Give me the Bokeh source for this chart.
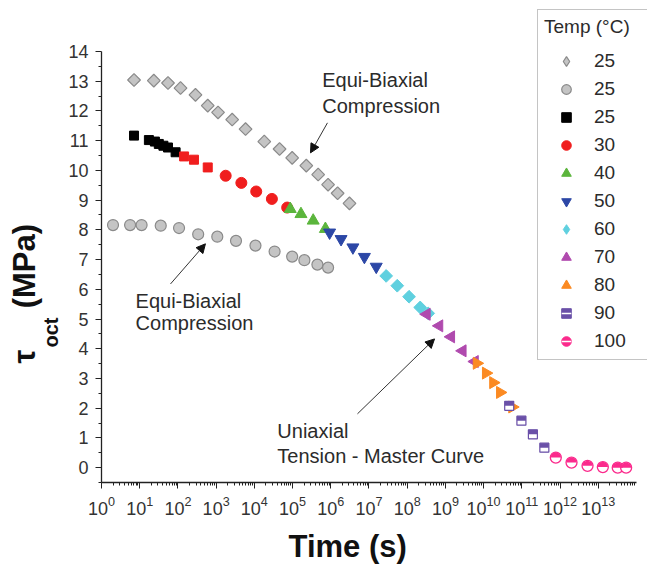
import math
from bokeh.plotting import figure
from bokeh.models import (Range1d, FixedTicker, Legend, LegendItem, Label, Arrow,
                          NormalHead, LogTickFormatter, Title)
from bokeh.embed import file_html
from bokeh.resources import INLINE

# ---------------- data (time in s, tau_oct in MPa) ----------------
t_25_diamond = [7.1, 23.4, 55, 117, 288, 603, 1122, 2630, 5890, 1.82e4, 4.57e4,
                9.77e4, 2.29e5, 4.68e5, 8.51e5, 1.51e6, 3.09e6]
y_25_diamond = [13.04, 13.02, 12.94, 12.77, 12.54, 12.18, 11.95, 11.71, 11.39, 10.97,
                10.72, 10.42, 10.16, 9.86, 9.52, 9.23, 8.89]

t_25_circle = [2.0, 5.6, 11.2, 35.5, 107, 339, 1072, 3311, 1.07e4, 3.39e4, 9.77e4,
               2.04e5, 4.47e5, 8.51e5]
y_25_circle = [8.16, 8.16, 8.16, 8.14, 8.06, 7.85, 7.77, 7.63, 7.47, 7.27, 7.10,
               6.98, 6.83, 6.73]

t_25_square = [7.1, 17.4, 25, 31.6, 41.7, 55, 87]
y_25_square = [11.17, 11.02, 10.97, 10.89, 10.83, 10.77, 10.61]

t_30_square = [145, 263, 603]
y_30_square = [10.47, 10.36, 10.10]
t_30 = [1778, 4571, 1.12e4, 2.88e4, 7.24e4]
y_30 = [9.82, 9.58, 9.29, 9.04, 8.75]

t_40 = [8.71e4, 1.66e5, 3.47e5, 7.24e5]
y_40 = [8.70, 8.53, 8.31, 8.03]

t_50 = [9.33e5, 1.86e6, 3.80e6, 7.59e6, 1.55e7]
y_50 = [7.91, 7.69, 7.41, 7.09, 6.76]

t_60 = [2.82e7, 5.50e7, 1.12e8, 2.19e8, 3.55e8]
y_60 = [6.45, 6.12, 5.75, 5.39, 5.19]

t_70 = [3.24e8, 6.92e8, 1.41e9, 2.82e9, 5.89e9]
y_70 = [5.16, 4.77, 4.40, 3.93, 3.57]

t_80 = [6.61e9, 1.15e10, 1.78e10, 2.69e10, 5.62e10]
y_80 = [3.51, 3.18, 2.86, 2.53, 2.04]

t_90 = [4.68e10, 9.77e10, 1.95e11, 3.89e11]
y_90 = [2.08, 1.58, 1.12, 0.67]

t_100 = [7.76e11, 2.0e12, 5.25e12, 1.32e13, 3.24e13, 5.37e13]
y_100 = [0.34, 0.17, 0.06, 0.02, 0.0, 0.0]

x_major_exponents = list(range(0, 14))
y_major_ticks = list(range(0, 15))
legend_labels = ["25", "25", "25", "30", "40", "50", "60", "70", "80", "90", "100"]

# ---------------- styling / layout ----------------
FONT = "Liberation Sans"
GRAY_FILL, GRAY_LINE = "#c4c4c4", "#8a8a8a"
RED, GREEN, BLUE = "#f01e1e", "#5bb53c", "#2c47a6"
CYAN, MAGENTA, ORANGE = "#5fd0df", "#b04aae", "#fb8a22"
PURPLE, PINK = "#6a50a8", "#fb2a8c"
TEXT = "#2b2b2b"
W, H = 647, 573
FRAME_L, FRAME_R, FRAME_T, FRAME_B = 101, 647, 0, 482
AXIS_TOP_PX = 51                      # where the y axis (value 14) ends
X_AX = (1.0, 1e14)                    # visible extent of the x axis
Y_AX = (-0.5, 14.0)                   # visible extent of the y axis
px_per_decade = 38.21
px_per_unit = (FRAME_B - AXIS_TOP_PX) / (Y_AX[1] - Y_AX[0])
x_end = 10 ** ((FRAME_R - FRAME_L) / px_per_decade)
y_end = Y_AX[1] + (AXIS_TOP_PX - FRAME_T) / px_per_unit
HALF_DY = 2.25 / px_per_unit          # top-half offset for half-filled squares

p = figure(width=W, height=H, x_axis_type="log", title=None,
           x_range=Range1d(X_AX[0], x_end), y_range=Range1d(Y_AX[0], y_end),
           output_backend="svg", toolbar_location=None,
           min_border_left=FRAME_L, min_border_right=W - FRAME_R,
           min_border_top=FRAME_T, min_border_bottom=H - FRAME_B)
p.grid.visible = False
p.outline_line_color = None
p.background_fill_color = "white"
p.border_fill_color = "white"

# axes
p.xaxis.ticker = FixedTicker(ticks=[10.0 ** e for e in x_major_exponents],
                             minor_ticks=[m * 10.0 ** e for e in x_major_exponents
                                          for m in range(2, 10)])
p.xaxis.formatter = LogTickFormatter()
p.xaxis.bounds = X_AX
p.yaxis.ticker = FixedTicker(ticks=y_major_ticks,
                             minor_ticks=[v + 0.5 for v in range(-1, 14)])
p.yaxis.bounds = Y_AX
for ax in (p.xaxis[0], p.yaxis[0]):
    ax.axis_line_color = "#222222"
    ax.axis_line_width = 1.3
    ax.major_tick_line_color = "#222222"
    ax.minor_tick_line_color = "#222222"
    ax.major_tick_out = 6
    ax.major_tick_in = 0
    ax.minor_tick_out = 3
    ax.minor_tick_in = 0
    ax.major_label_text_font = FONT
    ax.major_label_text_font_size = "18px"
    ax.major_label_text_color = "#333333"
    ax.major_label_standoff = 7

# ---------------- glyphs ----------------
# legend-only glyphs are drawn first, fully hidden beneath the real markers
lg_d25 = p.scatter(t_25_diamond, y_25_diamond, marker="diamond", size=9,
                   fill_color=GRAY_FILL, line_color=GRAY_LINE, line_width=1.2)
r_d25 = p.scatter(t_25_diamond, y_25_diamond, marker="square", angle=math.pi / 4,
                  size=9, fill_color=GRAY_FILL, line_color=GRAY_LINE, line_width=1.2)
r_c25 = p.scatter(t_25_circle, y_25_circle, marker="circle", size=11,
                  fill_color=GRAY_FILL, line_color=GRAY_LINE, line_width=1.2)
r_s25 = p.scatter(t_25_square, y_25_square, marker="square", size=9,
                  fill_color="black", line_color="black")
p.scatter(t_30_square, y_30_square, marker="square", size=9,
          fill_color=RED, line_color=RED)
r_30 = p.scatter(t_30, y_30, marker="circle", size=11, fill_color=RED, line_color=RED)
r_40 = p.scatter(t_40, y_40, marker="triangle", size=12, fill_color=GREEN, line_color=GREEN)
r_50 = p.scatter(t_50, y_50, marker="inverted_triangle", size=12,
                 fill_color=BLUE, line_color=BLUE)
lg_60 = p.scatter(t_60, y_60, marker="diamond", size=9, fill_color=CYAN, line_color=CYAN)
r_60 = p.scatter(t_60, y_60, marker="square", angle=math.pi / 4, size=9,
                 fill_color=CYAN, line_color=CYAN)
r_70 = p.scatter(t_70, y_70, marker="triangle", angle=math.pi / 2, size=12,
                 fill_color=MAGENTA, line_color=MAGENTA)
r_80 = p.scatter(t_80, y_80, marker="triangle", angle=-math.pi / 2, size=12,
                 fill_color=ORANGE, line_color=ORANGE)

# 90: half-filled squares
l90a = p.scatter(t_90, y_90, marker="square", size=8, fill_color=PURPLE, line_color=PURPLE)
l90b = p.scatter(t_90, y_90, marker="dash", size=7, line_color="white", line_width=1.5)
p.scatter(t_90, y_90, marker="square", size=9, fill_color="white",
          line_color=PURPLE, line_width=1.2)
p.rect(t_90, [v + HALF_DY for v in y_90], width=9, height=4.5,
       width_units="screen", height_units="screen", fill_color=PURPLE, line_color=None)

# 100: half-filled circles
l100a = p.scatter(t_100, y_100, marker="circle", size=8, fill_color=PINK, line_color=PINK)
l100b = p.scatter(t_100, y_100, marker="dash", size=6, line_color="white", line_width=1.5)
p.scatter(t_100, y_100, marker="circle", size=11, fill_color="white",
          line_color=PINK, line_width=1.3)
p.wedge(t_100, y_100, radius=5.2, radius_units="screen", start_angle=0,
        end_angle=math.pi, direction="anticlock", fill_color=PINK, line_color=None)

legend_renderers = [[lg_d25], [r_c25], [r_s25], [r_30], [r_40], [r_50], [lg_60],
                    [r_70], [r_80], [l90a, l90b], [l100a, l100b]]
legend = Legend(items=[LegendItem(label=lab, renderers=rs)
                       for lab, rs in zip(legend_labels, legend_renderers)],
                title="Temp (\u00b0C)", location=(537 - FRAME_L, FRAME_B - 360))
legend.title_text_font = FONT
legend.title_text_font_size = "19px"
legend.title_text_font_style = "normal"
legend.title_text_color = TEXT
legend.title_standoff = 11
legend.label_text_font = FONT
legend.label_text_font_size = "19px"
legend.label_text_color = TEXT
legend.glyph_width = 44
legend.glyph_height = 24
legend.label_height = 20
legend.label_width = 80
legend.label_standoff = 6
legend.spacing = 4
legend.padding = 6
legend.margin = 0
legend.border_line_color = "#8a8a8a"
legend.border_line_width = 1
legend.background_fill_color = "white"
legend.background_fill_alpha = 1
p.add_layout(legend)

# ---------------- annotations ----------------
def note(x, y, text):
    p.add_layout(Label(x=x, y=y, text=text, text_font=FONT, text_font_size="20px",
                       text_color=TEXT, text_align="left", text_baseline="middle"))

note(6.0e5, 13.05, "Equi-Biaxial")
note(6.0e5, 12.17, "Compression")
note(7.8, 5.61, "Equi-Biaxial")
note(7.8, 4.87, "Compression")
note(4.0e4, 1.24, "Uniaxial")
note(4.0e4, 0.39, "Tension - Master Curve")

for xs, ys, xe, ye in [(8.2e5, 11.60, 2.95e5, 10.59),
                       (64, 6.18, 525, 7.53),
                       (5.0e6, 1.81, 5.2e8, 4.33)]:
    p.add_layout(Arrow(x_start=xs, y_start=ys, x_end=xe, y_end=ye,
                       line_color="#333333", line_width=1,
                       end=NormalHead(size=9, fill_color="#111111",
                                      line_color="#111111", line_width=1)))

# axis titles as side-panel titles (offset measured from the start of the frame side)
p.add_layout(Title(text="Time (s)", text_font=FONT, text_font_size="31px",
                   text_font_style="bold", text_color="#111111", align="left",
                   offset=288 - FRAME_L, standoff=18), "below")
p.add_layout(Title(text="oct", text_font=FONT, text_font_size="20px",
                   text_font_style="bold", text_color="#111111", align="left",
                   offset=FRAME_B - 347, standoff=8), "left")
p.add_layout(Title(text="\u03c4\u2003\u2004(MPa)", text_font=FONT, text_font_size="31px",
                   text_font_style="bold", text_color="#111111", align="left",
                   offset=FRAME_B - 363, standoff=-17), "left")

open("out.html", "w").write(file_html(p, INLINE))
